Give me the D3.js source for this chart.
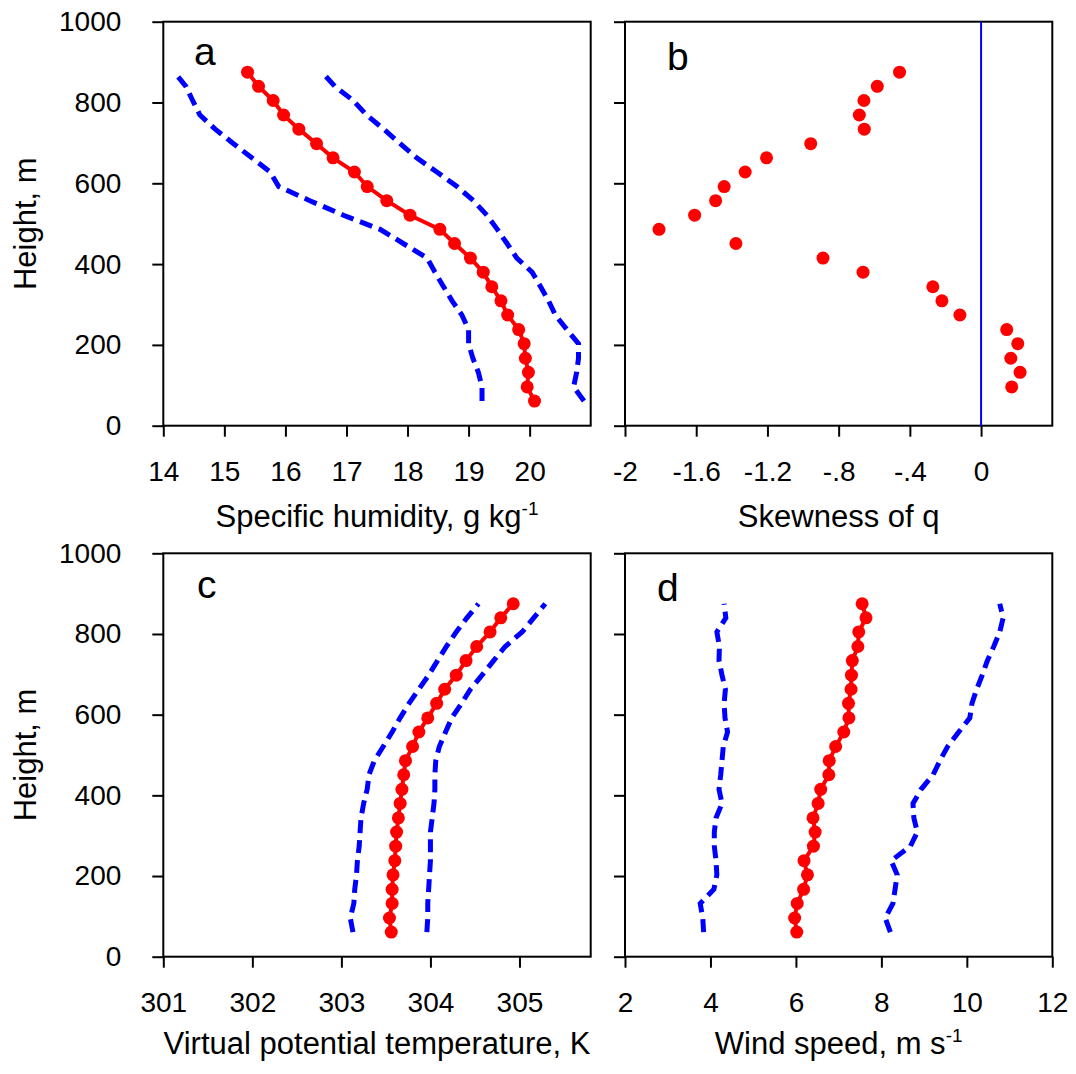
<!DOCTYPE html>
<html><head><meta charset="utf-8">
<script src="https://cdn.jsdelivr.net/npm/d3@7"></script>
<style>body{margin:0;background:#fff}svg{display:block;font-family:"Liberation Sans",Arial,Helvetica,sans-serif}</style>
</head><body><svg id="c" width="1076" height="1074"></svg>
<script>
// Heights (m), bottom to top
const heights = [61, 96, 132, 167, 203, 238, 274, 309, 344, 380, 415, 451, 486, 521, 557, 592, 628, 663, 698, 734, 769, 805, 840, 875];

// Panel a: specific humidity (g/kg)
const qMean = [20.08, 19.96, 19.98, 19.93, 19.91, 19.82, 19.64, 19.53, 19.38, 19.24, 19.03, 18.77, 18.53, 18.04, 17.66, 17.34, 17.13, 16.78, 16.51, 16.22, 15.97, 15.80, 15.56, 15.38];
const qLow  = [19.22, 19.22, 19.16, 19.07, 19.00, 19.00, 18.89, 18.73, 18.59, 18.45, 18.32, 17.93, 17.55, 16.95, 16.40, 15.89, 15.75, 15.45, 15.15, 14.85, 14.60, 14.48, 14.37, 14.18];
const qHigh = [20.89, 20.72, 20.77, 20.80, 20.80, 20.61, 20.42, 20.31, 20.18, 20.04, 19.79, 19.63, 19.47, 19.30, 19.08, 18.81, 18.48, 18.15, 17.88, 17.61, 17.33, 17.11, 16.81, 16.60];

// Panel b: skewness of q (heights from 96 m up)
const skewHeights = [96, 132, 167, 203, 238, 274, 309, 344, 380, 415, 451, 486, 521, 557, 592, 628, 663, 698, 734, 769, 805, 840, 875];
const skew = [0.172, 0.219, 0.167, 0.206, 0.144, -0.119, -0.220, -0.271, -0.663, -0.888, -1.377, -1.809, -1.609, -1.491, -1.443, -1.325, -1.205, -0.957, -0.656, -0.684, -0.658, -0.583, -0.458];

// Panel c: virtual potential temperature (K)
const thMean = [303.56, 303.54, 303.57, 303.57, 303.58, 303.60, 303.61, 303.62, 303.64, 303.66, 303.68, 303.70, 303.72, 303.80, 303.87, 303.97, 304.07, 304.16, 304.29, 304.40, 304.52, 304.67, 304.79, 304.93];
const thLow  = [303.13, 303.10, 303.14, 303.15, 303.17, 303.18, 303.20, 303.21, 303.22, 303.25, 303.29, 303.31, 303.37, 303.47, 303.57, 303.66, 303.76, 303.87, 303.98, 304.08, 304.18, 304.29, 304.41, 304.54];
const thHigh = [303.96, 303.97, 303.97, 303.98, 303.99, 304.00, 304.00, 304.00, 304.02, 304.04, 304.05, 304.05, 304.06, 304.10, 304.17, 304.24, 304.35, 304.45, 304.58, 304.71, 304.84, 305.03, 305.16, 305.29];

// Panel d: wind speed (m/s)
const wsMean = [6.02, 5.97, 6.03, 6.18, 6.27, 6.19, 6.41, 6.45, 6.40, 6.52, 6.58, 6.77, 6.78, 6.93, 7.12, 7.24, 7.23, 7.29, 7.30, 7.32, 7.45, 7.47, 7.64, 7.55];
const wsLow  = [3.84, 3.82, 3.76, 4.08, 4.15, 4.13, 4.09, 4.09, 4.13, 4.27, 4.20, 4.24, 4.27, 4.30, 4.40, 4.34, 4.32, 4.35, 4.27, 4.20, 4.21, 4.15, 4.36, 4.32];
const wsHigh = [8.21, 8.09, 8.27, 8.32, 8.37, 8.23, 8.68, 8.84, 8.76, 8.74, 8.93, 9.21, 9.37, 9.55, 9.81, 10.07, 10.12, 10.23, 10.36, 10.48, 10.63, 10.77, 10.85, 10.77];

// Tick labels
const yTicks = [0, 200, 400, 600, 800, 1000];
const aTicks = [14, 15, 16, 17, 18, 19, 20];
const bTicks = [-2, -1.6, -1.2, -0.8, -0.4, 0];
const bTickLabels = ["-2", "-1.6", "-1.2", "-.8", "-.4", "0"];
const cTicks = [301, 302, 303, 304, 305];
const dTicks = [2, 4, 6, 8, 10, 12];

const svg = d3.select("#c");
const RED = "#ff0000", BLUE = "#0000ff";
const FS = 28, TFS = 31;

function panel(o) {
  const x = d3.scaleLinear().domain(o.xDomain).range([o.x0, o.x1]);
  const y = d3.scaleLinear().domain([0, 1000]).range([o.y0, o.y1]);
  const g = svg.append("g");

  // y axis
  const ya = d3.axisLeft(y).tickValues(yTicks).tickSize(11).tickPadding(31).tickSizeOuter(0)
    .tickFormat(o.yLabels ? d3.format("d") : () => "");
  const yg = g.append("g").attr("transform", `translate(${o.x0},0)`).call(ya);
  // x axis
  const xa = d3.axisBottom(x).tickValues(o.xTicks).tickSize(11).tickPadding(24).tickSizeOuter(0)
    .tickFormat((d, i) => o.xLabels[i]);
  const xg = g.append("g").attr("transform", `translate(0,${o.y0})`).call(xa);
  [yg, xg].forEach(a => {
    a.select(".domain").remove();
    a.selectAll("line").attr("stroke", "#000").attr("stroke-width", 2);
    a.selectAll("text").attr("font-size", FS).attr("fill", "#000")
      .attr("font-family", "'Liberation Sans', Arial, sans-serif");
  });

  // frame
  g.append("rect").attr("x", o.x0).attr("y", o.y1).attr("width", o.x1 - o.x0).attr("height", o.y0 - o.y1)
    .attr("fill", "none").attr("stroke", "#000").attr("stroke-width", 2);

  // x title
  const t = g.append("text").attr("x", (o.x0 + o.x1) / 2).attr("y", o.titleY)
    .attr("text-anchor", "middle").attr("font-size", TFS).attr("fill", "#000").text(o.title);
  if (o.sup) t.append("tspan").attr("dy", -12).attr("font-size", 19).text(o.sup);

  if (o.yLabels) {
    g.append("text").attr("transform", `translate(36,${(o.y0 + o.y1) / 2}) rotate(-90)`)
      .attr("text-anchor", "middle").attr("font-size", TFS).attr("fill", "#000").text("Height, m");
  }

  // panel letter
  g.append("text").attr("x", o.lx).attr("y", o.ly).attr("font-size", 39).attr("fill", "#000").text(o.letter);

  const line = d3.line().x(d => x(d[0])).y(d => y(d[1]));
  if (o.vline !== undefined) {
    g.append("line").attr("x1", x(o.vline)).attr("x2", x(o.vline)).attr("y1", o.y0).attr("y2", o.y1)
      .attr("stroke", BLUE).attr("stroke-width", 2);
  }
  (o.dashed || []).forEach(vals => {
    g.append("path").datum(vals.map((v, i) => [v, o.h[i]])).attr("d", line)
      .attr("fill", "none").attr("stroke", BLUE).attr("stroke-width", 5)
      .attr("stroke-dasharray", "13,7");
  });
  const pts = o.mean.map((v, i) => [v, o.h[i]]);
  if (o.meanLine) {
    g.append("path").datum(pts).attr("d", line).attr("fill", "none").attr("stroke", RED).attr("stroke-width", 4);
  }
  g.selectAll("circle.m").data(pts).enter().append("circle")
    .attr("cx", d => x(d[0])).attr("cy", d => y(d[1])).attr("r", 6.5).attr("fill", RED);
}

const top0 = 425.7, top1 = 21.7, bot0 = 956.7, bot1 = 553.3;
const L0 = 163.3, L1 = 590.7, R0 = 625, R1 = 1052.3;

panel({ xDomain: [14, 21], x0: L0, x1: L1, y0: top0, y1: top1, xTicks: aTicks, xLabels: aTicks.map(String),
  yLabels: true, title: "Specific humidity, g kg", sup: "-1", titleY: 527, letter: "a", lx: 194, ly: 65,
  h: heights, mean: qMean, dashed: [qLow, qHigh], meanLine: true });
panel({ xDomain: [-2, 0.4], x0: R0, x1: R1, y0: top0, y1: top1, xTicks: bTicks, xLabels: bTickLabels,
  yLabels: false, title: "Skewness of q", titleY: 527, letter: "b", lx: 667, ly: 70,
  h: skewHeights, mean: skew, dashed: [], meanLine: false, vline: 0 });
panel({ xDomain: [301, 305.8], x0: L0, x1: L1, y0: bot0, y1: bot1, xTicks: cTicks, xLabels: cTicks.map(String),
  yLabels: true, title: "Virtual potential temperature, K", titleY: 1054, letter: "c", lx: 197, ly: 598,
  h: heights, mean: thMean, dashed: [thLow, thHigh], meanLine: true });
panel({ xDomain: [2, 12], x0: R0, x1: R1, y0: bot0, y1: bot1, xTicks: dTicks, xLabels: dTicks.map(String),
  yLabels: false, title: "Wind speed, m s", sup: "-1", titleY: 1054, letter: "d", lx: 657, ly: 601,
  h: heights, mean: wsMean, dashed: [wsLow, wsHigh], meanLine: true });
</script></body></html>
